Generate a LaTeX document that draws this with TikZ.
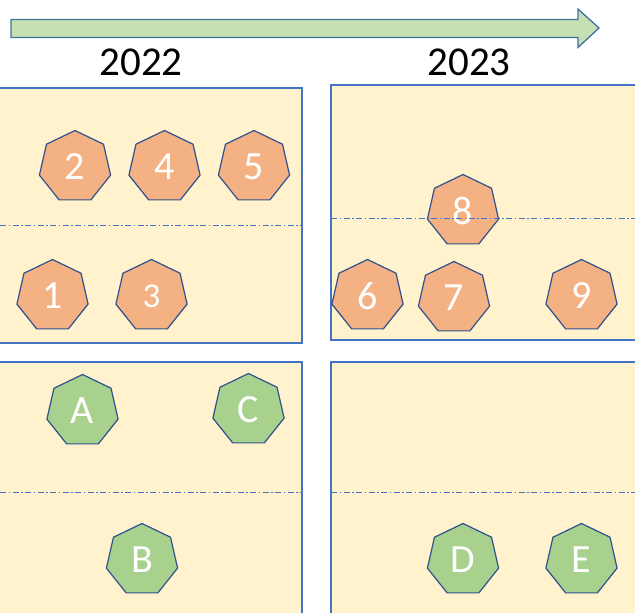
\documentclass[tikz,border=0pt]{standalone}
\usepackage{fontspec}
\setmainfont{Carlito}
\usetikzlibrary{shapes.geometric}
\definecolor{panelfill}{HTML}{FFF2CC}
\definecolor{panelline}{HTML}{4472C4}
\definecolor{orangefill}{HTML}{F4B183}
\definecolor{greenfill}{HTML}{A9D18E}
\definecolor{hepline}{HTML}{2F528F}
\definecolor{arrowfill}{HTML}{C5E0B4}
\definecolor{arrowline}{HTML}{41719C}
\begin{document}
\begin{tikzpicture}[x=1pt,y=-1pt,
  panel/.style={fill=panelfill,draw=panelline,line width=1.3pt},
  divider/.style={draw=panelline,line width=0.9pt,dash pattern=on 6pt off 2.5pt on 1.5pt off 2.5pt},
  hept/.style={regular polygon,regular polygon sides=7,minimum size=73pt,inner sep=0pt,
    draw=hepline,line width=1.2pt,text=white,font=\fontsize{40}{40}\selectfont},
  orangehept/.style={hept,fill=orangefill},
  greenhept/.style={hept,fill=greenfill},
  yearlabel/.style={font=\fontsize{41}{41}\selectfont,text=black,inner sep=0pt}]
\useasboundingbox (0,0) rectangle (635,613);
\begin{scope}
\clip (0,0) rectangle (635,613);
% timeline arrow
\path[fill=arrowfill,draw=arrowline,line width=1.3pt,line join=miter]
  (11,19.5) -- (578,19.5) -- (578,9) -- (599,28) -- (578,47.5) -- (578,37.5) -- (11,37.5) -- cycle;
\node[yearlabel] (y2022) at (141,62) {2022};
\node[yearlabel] (y2023) at (469,62) {2023};
% panels
\path[panel] (-5,88) rectangle (302,343);
\path[panel] (331,85) rectangle (645,340);
\path[panel] (-5,362) rectangle (302,625);
\path[panel] (331,362) rectangle (645,625);
% top-left
\node[orangehept] (n2) at (75,167) {2};
\node[orangehept] (n4) at (164.5,167) {4};
\node[orangehept] (n5) at (254,167) {5};
\node[orangehept] (n1) at (52.5,296) {1};
\node[orangehept,font=\fontsize{35}{35}\selectfont] (n3) at (151.5,296) {3};
% top-right
\node[orangehept] (n8) at (463,211) {8};
\node[orangehept] (n6) at (367.5,296) {6};
\node[orangehept] (n7) at (454,298) {7};
\node[orangehept] (n9) at (581.5,296) {9};
% bottom-left
\node[greenhept] (nA) at (82.5,411) {A};
\node[greenhept] (nC) at (248.5,410) {C};
\node[greenhept] (nB) at (142,560) {B};
% bottom-right
\node[greenhept] (nD) at (463,560) {D};
\node[greenhept] (nE) at (581.5,560) {E};
% dividers
\path[divider] (0,225) -- (302,225);
\path[divider] (331,218) -- (635,218);
\path[divider] (0,492) -- (302,492);
\path[divider] (331,492) -- (635,492);
\end{scope}
\end{tikzpicture}
\end{document}
